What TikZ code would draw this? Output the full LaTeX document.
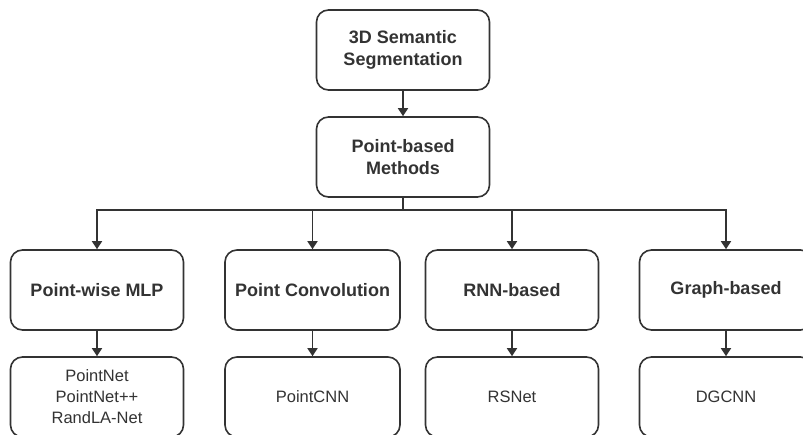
\documentclass[tikz,border=0pt]{standalone}
\usepackage{fontspec}
\setmainfont{Liberation Sans}
\usetikzlibrary{arrows.meta}
\definecolor{ink}{HTML}{333333}

\begin{document}
\begin{tikzpicture}[x=1pt, y=-1pt,
	box/.style={draw=ink, line width=1.6pt, rounded corners=12pt, minimum width=173pt,
		minimum height=80pt, text=ink, align=center, inner sep=2pt},
	head/.style={box, font=\fontsize{18}{22}\selectfont\bfseries},
	leaf/.style={box, font=\fontsize{16.5}{21}\selectfont},
	link/.style={draw=ink, line width=1.6pt, -{Triangle[width=10pt,length=8pt]}}]
	%rama
	\useasboundingbox (0,0) rectangle (803,435);
	\fill[white] (0,0) rectangle (803,435);

	%gora
	\node[head] (seg) at (403,50) {3D Semantic\\Segmentation};
	\node[head] (pbm) at (403,157) {Point-based\\Methods};

	%grupy
	\node[head] (mlp) at (97,290) {Point-wise MLP};
	\node[head, minimum width=175pt] (conv) at (312.5,290) {Point Convolution};
	\node[head] (rnn) at (512,290) {RNN-based};
	\node[head] (graph) at (726,290) {Graph-based};

	%metody
	\node[leaf] (mlpx) at (97,397) {PointNet\\PointNet++\\RandLA-Net};
	\node[leaf, minimum width=175pt] (convx) at (312.5,397) {PointCNN};
	\node[leaf] (rnnx) at (512,397) {RSNet};
	\node[leaf] (graphx) at (726,397) {DGCNN};

	%strzalki
	\coordinate (bus) at (0,210);
	\draw[link] (seg) -- (pbm);
	\foreach \g in {mlp,conv,rnn,graph}
	{
		\draw[link] (pbm.south) -- (pbm.south |- bus) -| (\g.north);
		\draw[link] (\g) -- (\g x);
	}
\end{tikzpicture}
\end{document}
